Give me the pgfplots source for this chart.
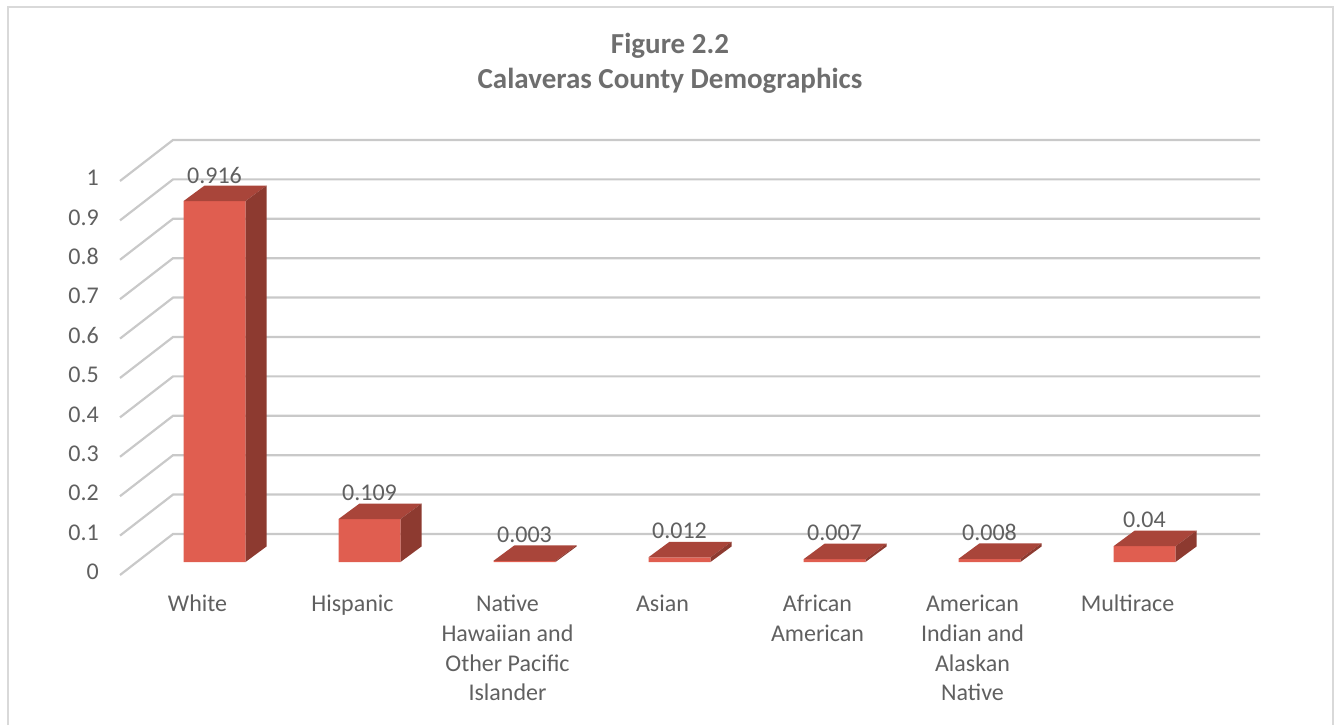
\documentclass[border=0pt]{standalone}
\usepackage{pgfplots}
\pgfplotsset{compat=1.18}
\usepackage{pgfplotstable}
\usepackage{fontspec}
\setmainfont{Carlito}
\definecolor{txt}{HTML}{606060}
\definecolor{ttl}{HTML}{6E6E6E}
\definecolor{barfront}{HTML}{E05E50}
\definecolor{bartop}{HTML}{A9453A}
\definecolor{barside}{HTML}{8D3A30}
\definecolor{gridc}{HTML}{C9C9C9}
\definecolor{framec}{HTML}{D9D9D9}

\pgfplotstableread{
i v
0 0.916
1 0.109
2 0.003
3 0.012
4 0.007
5 0.008
6 0.04
}\demo

\pgfdeclareplotmark{box3d}{%
  \pgfmathsetlengthmacro\h{\val*394pt}%
  \pgfsetfillcolor{bartop}%
  \pgfpathmoveto{\pgfpoint{-31pt}{0pt}}%
  \pgfpathlineto{\pgfpoint{31pt}{0pt}}%
  \pgfpathlineto{\pgfpoint{52pt}{15.5pt}}%
  \pgfpathlineto{\pgfpoint{-10pt}{15.5pt}}%
  \pgfpathclose
  \pgfusepath{fill}%
  \pgfsetfillcolor{barside}%
  \pgfpathmoveto{\pgfpoint{31pt}{0pt}}%
  \pgfpathlineto{\pgfpoint{52pt}{15.5pt}}%
  \pgfpathlineto{\pgfpoint{52pt}{15.5pt-\h}}%
  \pgfpathlineto{\pgfpoint{31pt}{-\h}}%
  \pgfpathclose
  \pgfusepath{fill}%
}

\begin{document}
\begin{tikzpicture}
\begin{axis}[
  x=155pt, y=394pt,
  xmin=-1.3839, xmax=7.2548,
  ymin=-0.4137, ymax=1.4264,
  enlargelimits=false,
  clip=false,
  axis line style={draw=none},
  major tick length=0pt,
  tick style={draw=none},
  /pgf/number format/assume math mode=true,
  ytick={0,0.1,0.2,0.3,0.4,0.5,0.6,0.7,0.8,0.9,1},
  yticklabel style={font=\fontsize{24}{29}\selectfont, text=txt, anchor=east, inner sep=0pt, xshift=99pt, yshift=-10pt},
  xtick={0,1,2,3,4,5,6},
  xticklabels={White, Hispanic, {Native\\Hawaiian and\\Other Pacific\\Islander}, Asian, {African\\American}, {American\\Indian and\\Alaskan\\Native}, Multirace},
  xticklabel style={font=\fontsize{24}{29.7}\selectfont, text=txt, align=center, anchor=north, inner sep=0pt, xshift=-17pt, yshift=130pt},
]
% frame
\draw[framec, line width=1.5pt] (axis cs:-1.3323,-0.4137) -- (axis cs:-1.3323,1.4086) -- (axis cs:7.2161,1.4086) -- (axis cs:7.2161,-0.4137);
% title
\node[anchor=base, font=\fontsize{29}{35}\selectfont\bfseries, text=ttl, inner sep=0pt] at (axis cs:2.9387,1.2895) {Figure 2.2};
\node[anchor=base, font=\fontsize{29}{35}\selectfont\bfseries, text=ttl, inner sep=0pt] at (axis cs:2.9387,1.2005) {Calaveras County Demographics};
% walls
\pgfplotsinvokeforeach{0,0.1,0.2,0.3,0.4,0.5,0.6,0.7,0.8,0.9,1}{
  \draw[gridc, line width=2.2pt] (axis cs:-0.6097,#1-0.033) -- (axis cs:-0.2677,#1+0.0711) -- (axis cs:6.7452,#1+0.0711);
}
% front faces
\addplot[ybar, bar width=62pt, bar shift=0pt, fill=barfront, draw=none,
  point meta=explicit symbolic,
  nodes near coords={\pgfplotspointmeta},
  every node near coord/.style={anchor=center, yshift=26pt, font=\fontsize{24}{29}\selectfont, text=txt, inner sep=0pt}]
  table[x=i, y=v, meta=v] {\demo};
% tops and sides
\addplot[only marks, mark=box3d, visualization depends on={\thisrow{v} \as \val}]
  table[x=i, y=v] {\demo};
\end{axis}
\end{tikzpicture}
\end{document}
